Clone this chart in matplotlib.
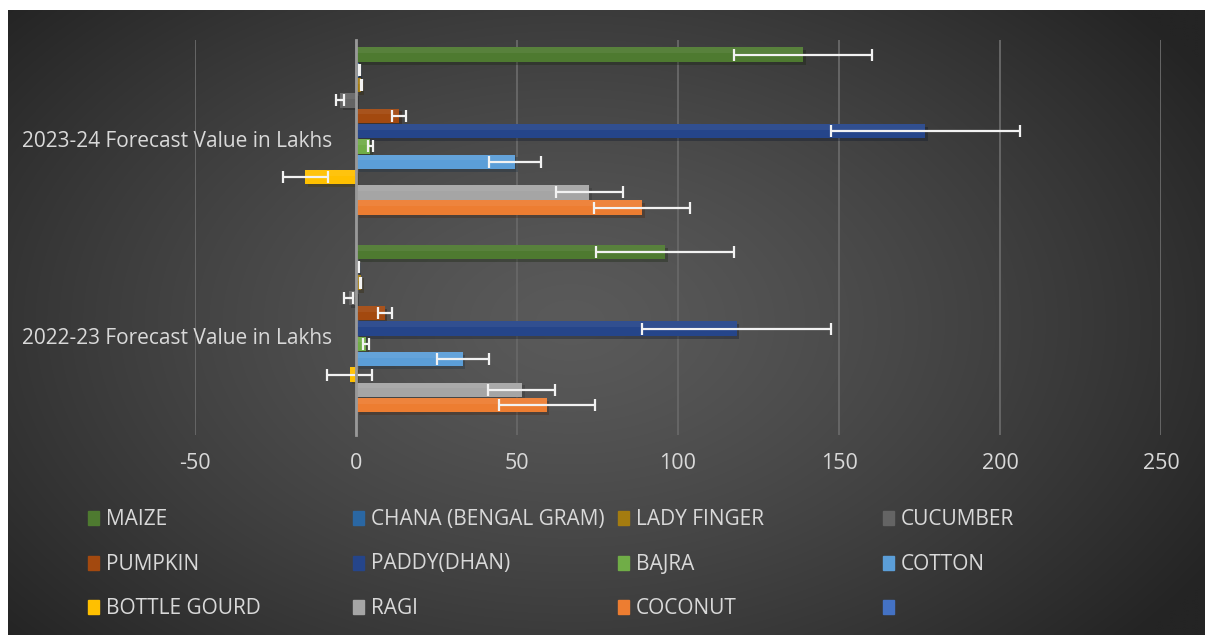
"""Forecast value per crop, 2022-23 vs 2023-24 (horizontal bars with error bars)."""

import matplotlib.pyplot as plt
import numpy as np
from matplotlib import patheffects
from matplotlib.patches import Rectangle

plt.rcParams["font.family"] = ["Open Sans", "DejaVu Sans"]

# 数据（从上到下的顺序）
categories = ["2022-23 Forecast Value in Lakhs", "2023-24 Forecast Value in Lakhs"]
crops = ["MAIZE", "CHANA (BENGAL GRAM)", "LADY FINGER", "CUCUMBER",
         "PUMPKIN", "PADDY(DHAN)", "BAJRA", "COTTON",
         "BOTTLE GOURD", "RAGI", "COCONUT", ""]
values_2022 = [96.0, 0.7, 1.5, -2.3, 8.9, 118.2, 3.1, 33.1, -2.0, 51.5, 59.2, 0]
values_2023 = [138.8, 1.0, 1.6, -4.9, 13.3, 176.8, 4.4, 49.4, -15.7, 72.4, 88.8, 0]
errors = [21.4, 0.15, 0.15, 1.3, 2.2, 29.3, 0.8, 8.1, 6.9, 10.4, 14.9, 0]
colors = ["#4e7a30", "#2a67a3", "#a47c10", "#646464",
          "#a3490f", "#25458a", "#70ad47", "#5b9ed8",
          "#ffc000", "#a5a5a5", "#ed7d31", "#4472c4"]
x_ticks = [-50, 0, 50, 100, 150, 200, 250]

W, H = 1205, 635
fig = plt.figure(figsize=(W / 100, H / 100), dpi=100, facecolor="white")

# 背景径向渐变
bg = fig.add_axes([8 / W, 0, (W - 8) / W, (H - 10) / H])
bg.set_axis_off()
yy, xx = np.mgrid[0:1:300j, 0:1:600j]
r = np.sqrt(((xx - 0.47) / 0.5) ** 2 + ((yy - 0.5) / 0.62) ** 2)
r = np.clip(r / 1.25, 0, 1)
v = (0x5a - (0x5a - 0x24) * r ** 1.3) / 255.0
bg.imshow(np.dstack([v, v, v]), aspect="auto", extent=(0, 1, 0, 1), interpolation="bilinear")

ax = fig.add_axes([195 / W, 200 / H, (1161 - 195) / W, 395 / H])
ax.set_facecolor("none")

n = len(crops)
slot = 1 / (n + 0.9)
bar_h = slot * 0.94
shadow = [patheffects.SimplePatchShadow(offset=(2, -2), alpha=0.35), patheffects.Normal()]

for i, (name, col) in enumerate(zip(crops, colors)):
    offset = (n / 2 - 0.5 - i) * slot
    ys = np.arange(len(categories)) + offset
    vals = [values_2022[i], values_2023[i]]
    bars = ax.barh(ys, vals, height=bar_h, color=col, zorder=3, label=name)
    for b in bars:
        b.set_path_effects(shadow)
    # 上半部分稍亮，模拟渐变
    ax.barh(ys + bar_h * 0.3, vals, height=bar_h * 0.4, color="white", alpha=0.06,
            linewidth=0, zorder=3.5)
    if errors[i] > 0:
        ax.errorbar(vals, ys, xerr=errors[i], fmt="none", ecolor="#f2f2f2",
                    elinewidth=1.6, capsize=4.6, capthick=1.6, zorder=4)

ax.set_xlim(-50, 250)
ax.set_ylim(-0.5, 1.5)
ax.set_xticks(x_ticks)
ax.set_xticklabels([str(t) for t in x_ticks])
ax.set_yticks(range(len(categories)))
ax.set_yticklabels(categories)
ax.grid(axis="x", color="#666666", linewidth=1.4, zorder=0)
ax.set_axisbelow(True)
for s in ["top", "right", "bottom"]:
    ax.spines[s].set_visible(False)
ax.spines["left"].set_position(("data", 0))
ax.spines["left"].set_color("#999999")
ax.spines["left"].set_linewidth(2)
ax.spines["left"].set_zorder(5)
ax.tick_params(axis="x", length=0, pad=13, labelsize=15.5, colors="#d9d9d9")
ax.tick_params(axis="y", length=0, pad=17, labelsize=15, colors="#d9d9d9")

# 图例：4列3行
for i, (name, col) in enumerate(zip(crops, colors)):
    c, rr = i % 4, i // 4
    x0 = 88 + c * 265
    yc = 518 + rr * 44.5
    fig.add_artist(Rectangle((x0 / W, 1 - (yc + 7) / H), 11 / W, 14 / H,
                             transform=fig.transFigure, color=col))
    fig.text((x0 + 18) / W, 1 - (yc + 1.5) / H, name, va="center", ha="left",
             fontsize=15, color="#d9d9d9")

fig.savefig("out.png", dpi=100, facecolor=fig.get_facecolor())
